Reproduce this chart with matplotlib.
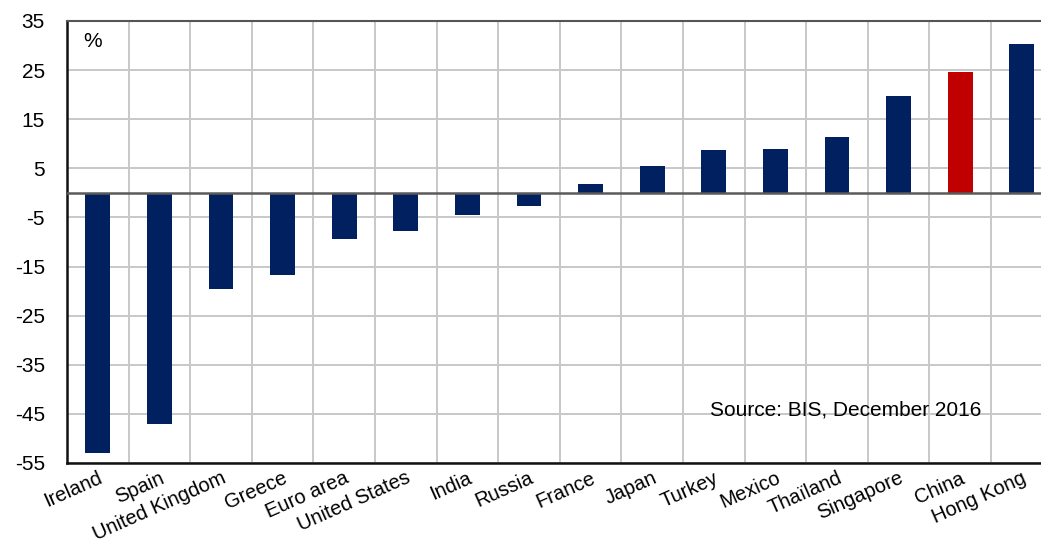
import numpy as np
import matplotlib
matplotlib.use("Agg")
import matplotlib.pyplot as plt

plt.rcParams["font.family"] = ["Liberation Sans", "DejaVu Sans"]

# data (%)
countries = [
    "Ireland", "Spain", "United Kingdom", "Greece", "Euro area",
    "United States", "India", "Russia", "France", "Japan", "Turkey",
    "Mexico", "Thaïland", "Singapore", "China", "Hong Kong",
]
values = [
    -52.9, -47.0, -19.6, -16.8, -9.4, -7.7, -4.6, -2.7,
    1.8, 5.5, 8.8, 9.0, 11.4, 19.7, 24.7, 30.4,
]
highlight = "China"
y_ticks = [35, 25, 15, 5, -5, -15, -25, -35, -45, -55]

NAVY = "#002060"
RED = "#C00000"
GRID = "#c8c8c8"
FS = 15

fig = plt.figure(figsize=(10.41, 5.46), dpi=100)
ax = fig.add_axes([67 / 1041, 83 / 546, (1052.6 - 67) / 1041, (463 - 21) / 546])

x = np.arange(len(countries))
colors = [RED if c == highlight else NAVY for c in countries]
ax.bar(x, values, width=0.4, color=colors, zorder=3)

ax.set_xlim(-0.5, len(countries) - 0.5)
ax.set_ylim(-55, 35)
ax.set_yticks(y_ticks)
ax.set_yticklabels([str(v) for v in y_ticks], fontsize=FS)

# grid: horizontal at ticks, vertical between categories
for v in y_ticks:
    ax.axhline(v, color=GRID, linewidth=1.4, zorder=1)
for b in np.arange(0.5, len(countries) - 0.5, 1.0):
    ax.axvline(b, color=GRID, linewidth=1.4, zorder=1)
ax.axhline(0, color="#5a5a5a", linewidth=1.8, zorder=4)

ax.set_xticks(x)
ax.set_xticklabels(countries, fontsize=14.5, rotation=24, ha="right",
                   va="top", rotation_mode="anchor")
ax.tick_params(axis="both", length=0)
ax.tick_params(axis="y", pad=16)
ax.tick_params(axis="x", pad=4)

for side in ["left", "bottom"]:
    ax.spines[side].set_color("#111111")
    ax.spines[side].set_linewidth(1.8)
ax.spines["top"].set_color("#555555")
ax.spines["top"].set_linewidth(1.5)
ax.spines["right"].set_visible(False)

ax.text(0.016, 0.975, "%", transform=ax.transAxes, fontsize=FS,
        ha="left", va="top")
ax.text(14.35, -44.3, "Source: BIS, December 2016", fontsize=FS,
        ha="right", va="center", zorder=5)

fig.savefig("out.png", dpi=100, facecolor="white")
